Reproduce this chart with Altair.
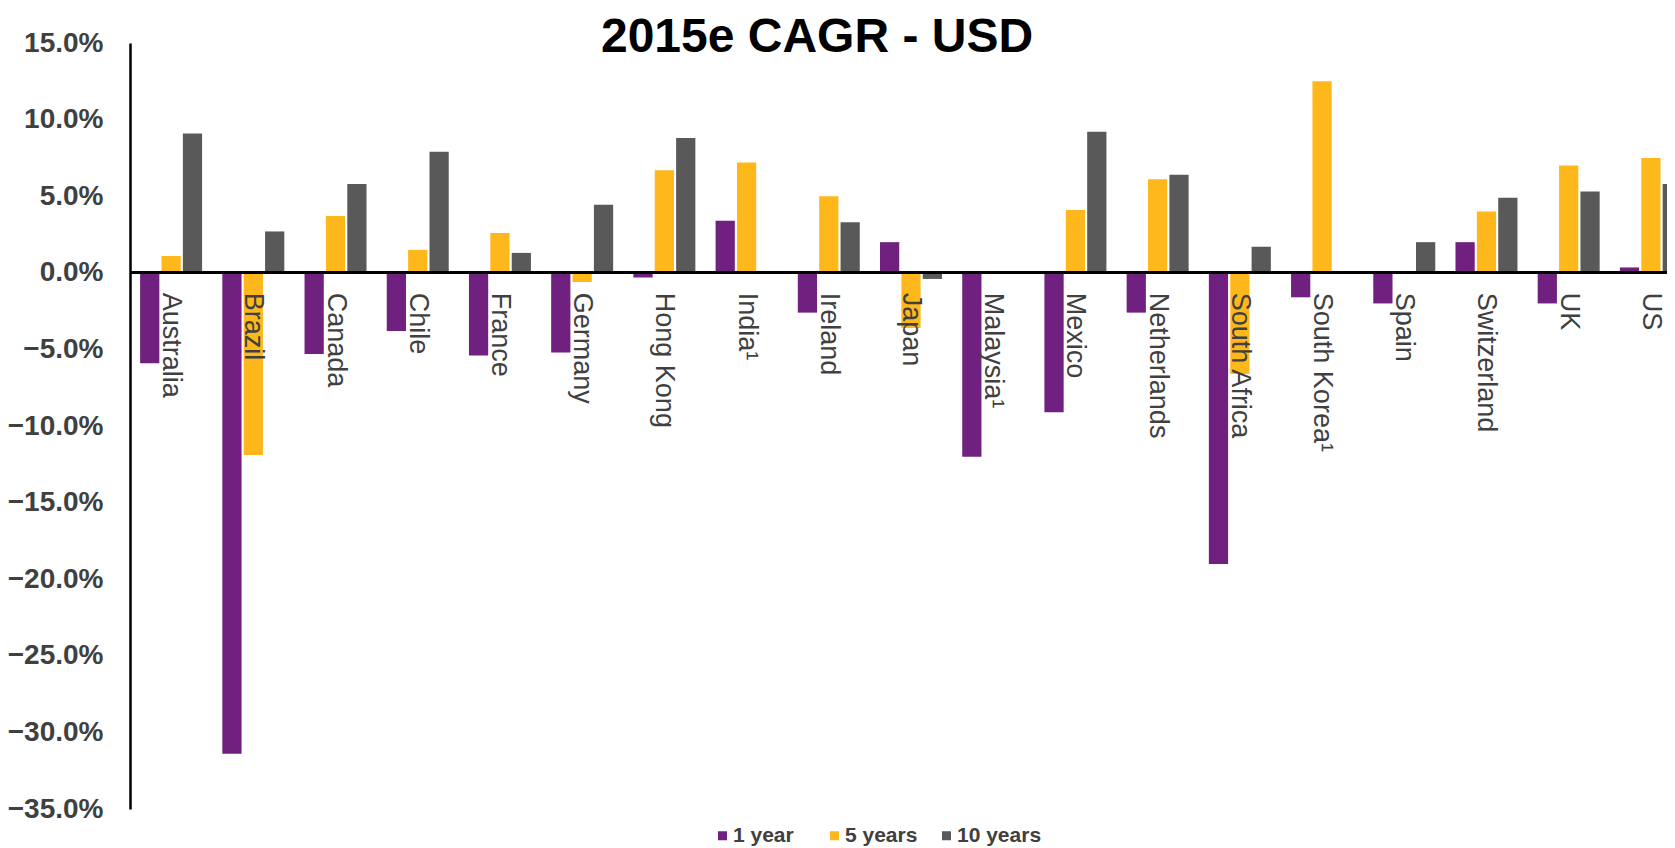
import altair as alt
import pandas as pd

countries = ["Australia", "Brazil", "Canada", "Chile", "France", "Germany", "Hong Kong",
             "India¹", "Ireland", "Japan", "Malaysia¹", "Mexico", "Netherlands",
             "South Africa", "South Korea¹", "Spain", "Switzerland", "UK", "US"]
series_names = ["1 year", "5 years", "10 years"]
one_year = [-5.9, -31.4, -5.3, -3.8, -5.4, -5.2, -0.3, 3.4, -2.6, 2.0, -12.0, -9.1, -2.6,
            -19.0, -1.6, -2.0, 2.0, -2.0, 0.35]
five_years = [1.1, -11.9, 3.7, 1.5, 2.6, -0.6, 6.7, 7.2, 5.0, -3.6, None, 4.1, 6.1,
              -6.6, 12.5, None, 4.0, 7.0, 7.5]
ten_years = [9.1, 2.7, 5.8, 7.9, 1.3, 4.45, 8.8, None, 3.3, -0.4, None, 9.2, 6.4,
             1.7, None, 2.0, 4.9, 5.3, 5.8]
colors = ["#70207E", "#FEB81C", "#595959"]
y_ticks = [-35, -30, -25, -20, -15, -10, -5, 0, 5, 10, 15]

rows = []
for s, vals in zip(series_names, [one_year, five_years, ten_years]):
    for c, v in zip(countries, vals):
        rows.append({"country": c, "series": s, "value": v})
df = pd.DataFrame(rows)
labels_df = pd.DataFrame({"country": countries})

FONT = "Liberation Sans"

x_scale = alt.Scale(domain=countries, paddingInner=0.246, paddingOuter=0.123)
y_scale = alt.Scale(domain=[-35, 15], nice=False, zero=False)

bars = alt.Chart(df).mark_bar().encode(
    x=alt.X("country:N", sort=countries, scale=x_scale, axis=None),
    xOffset=alt.XOffset("series:N", sort=series_names, scale=alt.Scale(paddingInner=0.1)),
    y=alt.Y("value:Q", scale=y_scale,
            axis=alt.Axis(values=y_ticks, labelExpr="format(datum.value, '.1f') + '%'",
                          labelFont=FONT, labelFontWeight="bold", labelFontSize=28,
                          labelColor="#404040", labelPadding=27, ticks=False, grid=False,
                          domainColor="black", domainWidth=2.5, title=None)),
    color=alt.Color("series:N", sort=series_names,
                    scale=alt.Scale(domain=series_names, range=colors),
                    legend=alt.Legend(orient="none", legendX=582, legendY=782,
                                      direction="horizontal", title=None,
                                      symbolType="square", symbolSize=81,
                                      symbolStrokeWidth=0, labelFont=FONT,
                                      labelFontWeight="bold", labelFontSize=21,
                                      labelColor="#404040", labelOffset=0,
                                      gridAlign="all", columnPadding=6, padding=0)),
)

zero_rule = alt.Chart(labels_df).mark_rule(color="black", strokeWidth=2.5).encode(
    y=alt.datum(0)
)

texts = alt.Chart(labels_df).mark_text(
    angle=90, align="left", baseline="middle", dx=20,
    font=FONT, fontSize=27, color="#404040"
).encode(
    x=alt.X("country:N", sort=countries, scale=x_scale, axis=None),
    y=alt.datum(0),
    text="country:N",
)

chart = alt.layer(bars, zero_rule, texts).properties(
    width=1562,
    height=766,
    title=alt.TitleParams("2015e CAGR - USD", fontSize=48, font=FONT, fontWeight="bold",
                          color="black", anchor="middle", frame="group", dx=-94,
                          offset=-71, baseline="alphabetic"),
    autosize=alt.AutoSizeParams(type="none"),
    padding={"left": 122, "top": 35, "right": -25, "bottom": 39},
).configure_view(stroke=None)

chart.save("out.html", embed_options={"renderer": "svg", "actions": False})
